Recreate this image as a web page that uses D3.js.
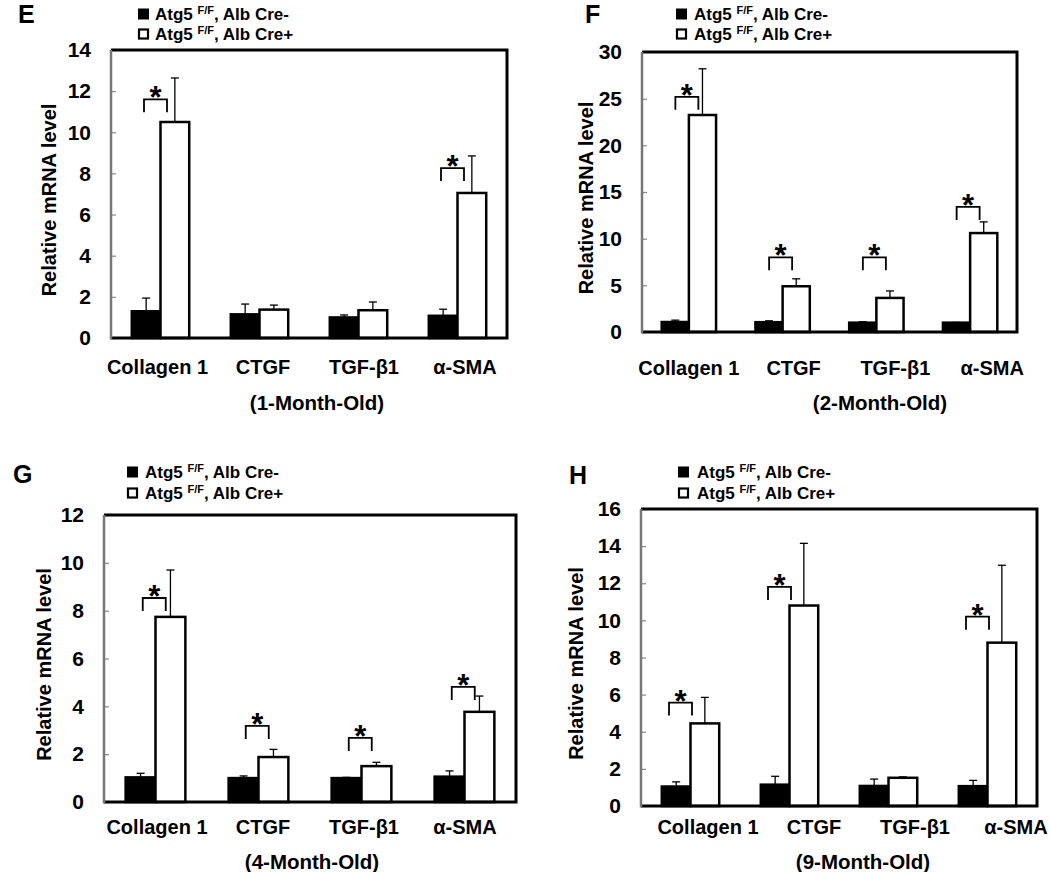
<!DOCTYPE html>
<html>
<head>
<meta charset="utf-8">
<script src="https://cdn.jsdelivr.net/npm/d3@7/dist/d3.min.js"></script>
<style>
  html, body { margin: 0; padding: 0; background: #fff; }
  svg { display: block; }
  text { font-family: "Liberation Sans", Arial, sans-serif; font-weight: bold; fill: #000; }
</style>
</head>
<body>
<svg id="chart" width="1050" height="872"></svg>
<script>
// ---------------- DATA ----------------
const categories = ["Collagen 1", "CTGF", "TGF-β1", "α-SMA"];
const panelLetters = ["E", "F", "G", "H"];
const ageLabels = ["(1-Month-Old)", "(2-Month-Old)", "(4-Month-Old)", "(9-Month-Old)"];
const seriesNames = ["Atg5 ", "Atg5 "];
const seriesSup = ["F/F", "F/F"];
const seriesSuffix = [", Alb Cre-", ", Alb Cre+"];
const yAxisTitle = "Relative mRNA level";
const yMaxes = [14, 30, 12, 16];
const yTickSteps = [2, 5, 2, 2];

// Alb Cre- (black) means and SD
const creNegE = [1.30, 1.15, 1.00, 1.08];
const creNegErrE = [0.64, 0.50, 0.12, 0.32];
const creNegF = [1.07, 1.05, 1.00, 1.00];
const creNegErrF = [0.20, 0.15, 0.10, 0.02];
const creNegG = [1.03, 1.00, 1.00, 1.06];
const creNegErrG = [0.17, 0.09, 0.03, 0.24];
const creNegH = [1.05, 1.15, 1.08, 1.07];
const creNegErrH = [0.25, 0.45, 0.37, 0.31];

// Alb Cre+ (white) means and SD
const crePosE = [10.50, 1.38, 1.35, 7.05];
const crePosErrE = [2.14, 0.22, 0.40, 1.80];
const crePosF = [23.25, 4.90, 3.65, 10.60];
const crePosErrF = [4.95, 0.80, 0.75, 1.20];
const crePosG = [7.74, 1.88, 1.50, 3.77];
const crePosErrG = [1.96, 0.32, 0.16, 0.66];
const crePosH = [4.45, 10.80, 1.52, 8.80];
const crePosErrH = [1.40, 3.35, 0.05, 4.17];

// significance bracket heights (data units), null = not significant
const sigE = [11.6, null, null, 8.26];
const sigF = [25.2, 8.0, 8.0, 13.4];
const sigG = [8.53, 3.18, 2.68, 4.81];
const sigH = [5.57, 11.8, null, 10.2];

// ---------------- LAYOUT (not data) ----------------
const layouts = [
  { frame: [111, 50, 507, 338], letter: [18, 23], legend: [138, 155, 14, 34], ytitleX: 49,
    labelY: 374, labelDx: [-3, 3.5, 5.5, 7.5], age: [317, 410], bracketDx: -16.5 },
  { frame: [642, 52, 1017, 332], letter: [585, 23], legend: [676, 694, 14, 34], ytitleX: 586,
    labelY: 375, labelDx: [0, 11, 19, 22], age: [880, 410], bracketDx: -13.5 },
  { frame: [104, 515, 516, 802], letter: [13, 483], legend: [127, 145, 472, 493], ytitleX: 44,
    labelY: 834, labelDx: [1.5, 4.5, 2.5, 0.5], age: [312, 869], bracketDx: -12.75 },
  { frame: [641, 509, 1037, 806], letter: [569, 484], legend: [678, 697, 472, 493], ytitleX: 576,
    labelY: 834, labelDx: [17.5, 24.5, 26.5, 28.5], age: [863, 869], bracketDx: -21.5 }
];

const panels = [
  { neg: creNegE, negErr: creNegErrE, pos: crePosE, posErr: crePosErrE, sig: sigE },
  { neg: creNegF, negErr: creNegErrF, pos: crePosF, posErr: crePosErrF, sig: sigF },
  { neg: creNegG, negErr: creNegErrG, pos: crePosG, posErr: crePosErrG, sig: sigG },
  { neg: creNegH, negErr: creNegErrH, pos: crePosH, posErr: crePosErrH, sig: sigH }
];

const svg = d3.select("#chart");

panels.forEach((p, i) => {
  const L = layouts[i];
  const [x0, y0, x1, y1] = L.frame;
  const g = svg.append("g");

  const x = d3.scaleBand().domain(categories).range([x0, x1]).padding(0);
  const y = d3.scaleLinear().domain([0, yMaxes[i]]).range([y1, y0]);
  const bw = x.bandwidth() * 0.29;
  const cx = c => x(c) + x.bandwidth() / 2;

  // Y axis ticks (inward, gray) and labels
  const ticks = d3.range(0, yMaxes[i] + 0.001, yTickSteps[i]);
  const yAxis = d3.axisLeft(y).tickValues(ticks).tickSizeInner(-5).tickSizeOuter(0).tickPadding(20)
    .tickFormat(d3.format("d"));
  const ag = g.append("g").attr("transform", `translate(${x0},0)`).call(yAxis);
  ag.select(".domain").remove();
  ag.selectAll(".tick line").attr("stroke", "#888").attr("stroke-width", 1.2);
  ag.selectAll(".tick text").style("font-size", "21px").style("font-weight", "bold")
    .style("font-family", "'Liberation Sans', Arial, sans-serif").attr("fill", "#000");

  // Bars
  const negBars = categories.map((c, k) => ({ c, v: p.neg[k], e: p.negErr[k] }));
  const posBars = categories.map((c, k) => ({ c, v: p.pos[k], e: p.posErr[k] }));

  const drawErr = (data, dx) => {
    const eg = g.append("g").attr("stroke", "#000").attr("stroke-width", 1.3);
    data.forEach(d => {
      const xc = cx(d.c) + dx;
      eg.append("line").attr("x1", xc).attr("x2", xc).attr("y1", y(d.v)).attr("y2", y(d.v + d.e));
      eg.append("line").attr("x1", xc - 4).attr("x2", xc + 4).attr("y1", y(d.v + d.e)).attr("y2", y(d.v + d.e));
    });
  };
  drawErr(negBars, -bw / 2);
  drawErr(posBars, bw / 2);

  g.append("g").selectAll("rect").data(negBars).join("rect")
    .attr("x", d => cx(d.c) - bw).attr("y", d => y(d.v))
    .attr("width", bw).attr("height", d => y(0) - y(d.v))
    .attr("fill", "#000").attr("stroke", "#000").attr("stroke-width", 2.5);
  g.append("g").selectAll("rect").data(posBars).join("rect")
    .attr("x", d => cx(d.c)).attr("y", d => y(d.v))
    .attr("width", bw).attr("height", d => y(0) - y(d.v))
    .attr("fill", "#fff").attr("stroke", "#000").attr("stroke-width", 2.5);

  // Frame
  g.append("path")
    .attr("d", `M${x0},${y0} L${x1},${y0} L${x1},${y1} L${x0},${y1}`)
    .attr("fill", "none").attr("stroke", "#000").attr("stroke-width", 3);
  g.append("line").attr("x1", x0).attr("x2", x0).attr("y1", y0).attr("y2", y1 + 1.5)
    .attr("stroke", "#777").attr("stroke-width", 2.5);

  // Significance brackets
  categories.forEach((c, k) => {
    const h = p.sig[k];
    if (h === null) return;
    const bx0 = cx(c) + L.bracketDx, bx1 = bx0 + 23;
    const by = y(h);
    g.append("path").attr("d", `M${bx0},${by + 13} L${bx0},${by} L${bx1},${by} L${bx1},${by + 13}`)
      .attr("fill", "none").attr("stroke", "#000").attr("stroke-width", 1.8);
    g.append("text").attr("x", (bx0 + bx1) / 2).attr("y", by + 9)
      .attr("text-anchor", "middle").style("font-size", "31px").text("*");
  });

  // X labels
  g.selectAll(".xl").data(categories).join("text")
    .attr("x", (d, k) => cx(d) + L.labelDx[k]).attr("y", L.labelY)
    .attr("text-anchor", "middle").style("font-size", "20px").text(d => d);

  // Age label
  g.append("text").attr("x", L.age[0]).attr("y", L.age[1]).attr("text-anchor", "middle")
    .style("font-size", "20.5px").text(ageLabels[i]);

  // Y title
  g.append("text").attr("transform", `translate(${L.ytitleX},${(y0 + y1) / 2 + 6}) rotate(-90)`)
    .attr("text-anchor", "middle").attr("dy", "0.35em").style("font-size", "20px").text(yAxisTitle);

  // Panel letter
  g.append("text").attr("x", L.letter[0]).attr("y", L.letter[1]).style("font-size", "25px").text(panelLetters[i]);

  // Legend
  [0, 1].forEach(s => {
    const ry = s === 0 ? L.legend[2] : L.legend[3];
    g.append("rect").attr("x", L.legend[0] + (s ? 1 : 0)).attr("y", ry - 5.5 + (s ? 1 : 0))
      .attr("width", s ? 9 : 11).attr("height", s ? 9 : 11)
      .attr("fill", s ? "#fff" : "#000").attr("stroke", s ? "#000" : "none").attr("stroke-width", 2.2);
    const t = g.append("text").attr("x", L.legend[1]).attr("y", ry + 6).style("font-size", "17px");
    t.append("tspan").text(seriesNames[s]);
    t.append("tspan").attr("dy", -6).style("font-size", "11px").text(seriesSup[s]);
    t.append("tspan").attr("dy", 6).text(seriesSuffix[s]);
  });
});
</script>
</body>
</html>
